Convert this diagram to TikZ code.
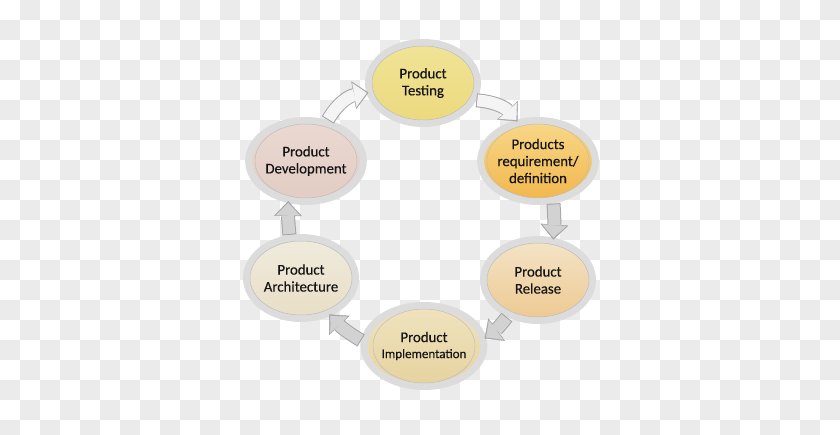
\documentclass[tikz,border=0pt]{standalone}
\usepackage{fontspec}
\setmainfont{Carlito}
\newfontfamily\stagefont{Carlito}[FakeBold=0.35]
\usepackage{tikz}
\usetikzlibrary{arrows.meta, shapes.geometric}
\definecolor{check}{HTML}{EBEBEB}
\definecolor{ring}{HTML}{DCDCDC}
\definecolor{rim}{HTML}{BDBDBD}
\definecolor{ink}{HTML}{141414}
\definecolor{arrowline}{HTML}{A5A5A5}
\definecolor{arrowpale}{HTML}{F4F4F4}
\definecolor{arrowgray}{HTML}{D2D2D2}
\tikzset{
    stage/.style={ellipse, minimum width=109pt, minimum height=81pt, inner sep=0pt, draw=ring, line width=7pt,
        align=center, text=ink, font=\stagefont\fontsize{14.8}{17}\selectfont}, % ellipses with grey ring
    flow outline/.style={line width=14pt, draw=arrowline, shorten >=-2pt,
        -{Triangle[length=15pt, width=28pt, line width=0.4pt]}},
    flow/.style={line width=12pt, draw=#1, shorten <=1pt, shorten >=-0.2pt,
        -{Triangle[length=12.5pt, width=24pt, line width=0.4pt]}}
}

\begin{document}
\begin{tikzpicture}[x=1pt, y=1pt]
    \useasboundingbox (0,0) rectangle (840,435);
    \clip (0,0) rectangle (840,435);

    % checkerboard background
    \foreach \c in {0,...,41} {\foreach \r in {0,...,21} {
        \ifodd\numexpr\c+\r\relax \fill[check] (20*\c, 435-20*\r) rectangle ++(20,-20); \fi}}

    \node[stage, top color={rgb,255:red,240;green,228;blue,150}, bottom color={rgb,255:red,236;green,217;blue,126}] (test) at (423,352) {Product\\Testing};
    \node[stage, top color={rgb,255:red,248;green,216;blue,136}, bottom color={rgb,255:red,242;green,182;blue,76}] (req) at (538,274) {Products\\requirement/\\definition};
    \node[stage, top color={rgb,255:red,244;green,228;blue,200}, bottom color={rgb,255:red,237;green,201;blue,144}] (rel) at (538,155) {Product\\Release};
    \node[stage, top color={rgb,255:red,239;green,227;blue,191}, bottom color={rgb,255:red,230;green,210;blue,158}] (impl) at (424,89)
        {Product\\[-1pt]{\fontsize{13}{15}\selectfont Implementation}};
    \node[stage, top color={rgb,255:red,240;green,235;blue,221}, bottom color={rgb,255:red,232;green,222;blue,198}] (arch) at (301,157) {Product\\Architecture};
    \node[stage, top color={rgb,255:red,234;green,217;blue,210}, bottom color={rgb,255:red,226;green,204;blue,195}] (dev) at (306,274) {Product\\Development};

    \foreach \n in {test,req,rel,impl,arch,dev} {\draw[rim, line width=0.5pt] (\n.center) ellipse (51 and 37);}

    % cycle arrows
    \foreach \a/\b/\bend/\col in {dev.62/test.190/25/arrowpale, test.-18/req.118/22/arrowpale,
        req.-70/rel.70/4/arrowgray, rel.230/impl.8/8/arrowgray, impl.175/arch.-52/8/arrowgray, arch.105/dev.247/3/arrowgray} {
        \draw[flow outline] (\a) to[bend left=\bend] (\b);
        \draw[flow=\col] (\a) to[bend left=\bend] (\b);
    }
\end{tikzpicture}
\end{document}
